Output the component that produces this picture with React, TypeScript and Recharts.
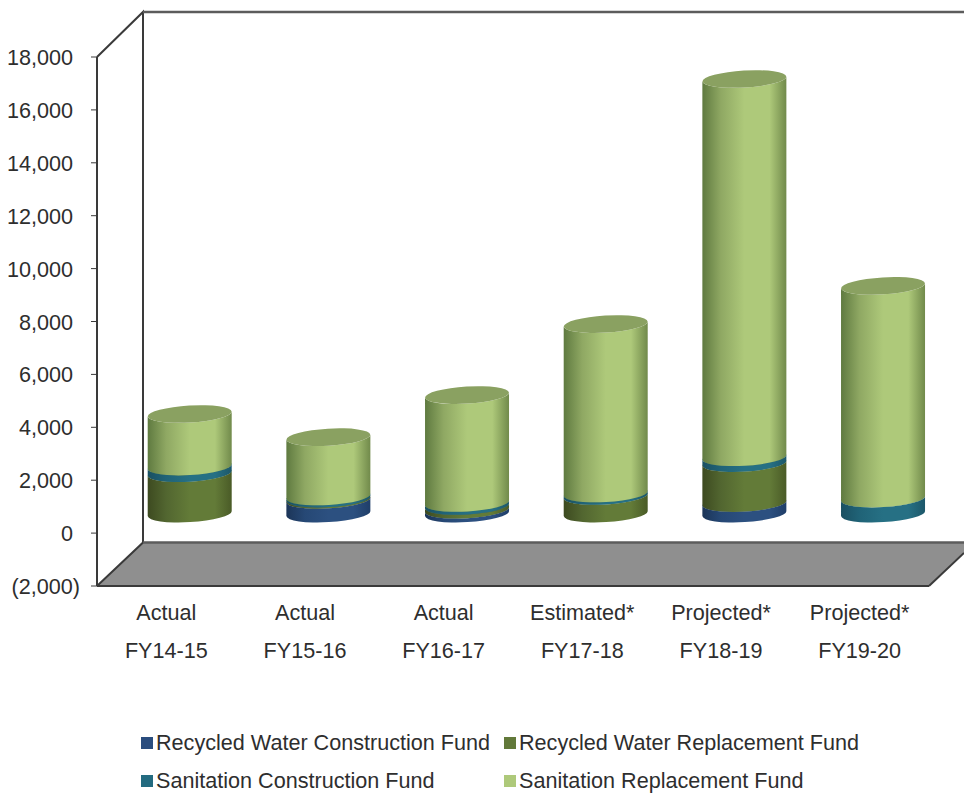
import { BarChart, Bar, XAxis, YAxis, Legend } from "recharts";

const PERIODS = ["Actual", "Actual", "Actual", "Estimated*", "Projected*", "Projected*"];
const YEARS = ["FY14-15", "FY15-16", "FY16-17", "FY17-18", "FY18-19", "FY19-20"];
const RW_CONSTRUCTION = [0, 520, 150, 0, 400, 0];
const RW_REPLACEMENT = [1530, 50, 140, 670, 1510, 0];
const SAN_CONSTRUCTION = [250, 80, 115, 90, 220, 570];
const SAN_REPLACEMENT = [1985, 2240, 4075, 6405, 14300, 8040];
const Y_TICKS = [-2000, 0, 2000, 4000, 6000, 8000, 10000, 12000, 14000, 16000, 18000];

const SERIES = [
  { key: "rwc", label: "Recycled Water Construction Fund", swatch: "#2a4d7e", dark: "#1c3558", soft: "#264875", mid: "#2c5080", side: "#1f3e68", cap: "#2a4d7e" },
  { key: "rwr", label: "Recycled Water Replacement Fund", swatch: "#62793a", dark: "#3d4a20", soft: "#526630", mid: "#637b38", side: "#4a5b27", cap: "#62793a" },
  { key: "sc", label: "Sanitation Construction Fund", swatch: "#236b80", dark: "#1a5062", soft: "#206377", mid: "#267084", side: "#1c5769", cap: "#236b80" },
  { key: "sr", label: "Sanitation Replacement Fund", swatch: "#aec97a", dark: "#5f7a40", soft: "#8fa863", mid: "#aec97a", side: "#718a4b", cap: "#8aa161" },
];

const data = YEARS.map((year, i) => ({
  year,
  rwc: RW_CONSTRUCTION[i],
  rwr: RW_REPLACEMENT[i],
  sc: SAN_CONSTRUCTION[i],
  sr: SAN_REPLACEMENT[i],
}));

const FONT = "'Liberation Sans', Arial, sans-serif";
const TEXT = "#2e2e2e";
const FONT_SIZE = 21.6;

// plot box of the front plane, and how far back the 3D walls go
const LEFT = 97;
const RIGHT = 929;
const TOP = 57;
const BOTTOM = 586;
const DEPTH_X = 46;
const DEPTH_Y = 44;
const TILT = -3.4;
const RY = 8.5;

function Cylinder(props: any) {
  const { x, y, width, height, seriesIndex } = props;
  if (!height || height <= 0) return null;
  const s = SERIES[seriesIndex];
  const left = x + DEPTH_X / 2 + 0.7;
  const right = left + width;
  const top = y - 19.5;
  const bottom = top + height;
  const rx = width / 2;
  const lift = 2.5;
  const path =
    `M${left},${top + lift} L${left},${bottom + lift} ` +
    `A${rx},${RY} ${TILT} 0 0 ${right},${bottom - lift} ` +
    `L${right},${top - lift} A${rx},${RY} ${TILT} 0 1 ${left},${top + lift} Z`;
  const cx = (left + right) / 2;
  return (
    <g>
      <path d={path} fill={`url(#grad-${s.key})`} />
      <ellipse
        cx={cx}
        cy={top}
        rx={rx}
        ry={RY}
        fill={s.cap}
        transform={`rotate(${TILT} ${cx} ${top})`}
      />
    </g>
  );
}

function YTick({ x, y, payload }: any) {
  const negative = payload.value < 0;
  const n = Math.abs(payload.value).toLocaleString("en-US");
  return (
    <text
      x={negative ? x - 1 : x - 8}
      y={y + 8}
      textAnchor="end"
      fontFamily={FONT}
      fontSize={FONT_SIZE}
      fill={TEXT}
    >
      {negative ? `(${n})` : n}
    </text>
  );
}

function XTick({ x, payload }: any) {
  return (
    <text textAnchor="middle" fontFamily={FONT} fontSize={FONT_SIZE} fill={TEXT}>
      <tspan x={x} y={620}>{PERIODS[payload.index]}</tspan>
      <tspan x={x} y={658}>{payload.value}</tspan>
    </text>
  );
}

function LegendBox() {
  return (
    <div
      style={{
        display: "grid",
        gridTemplateColumns: "363px 400px",
        gridAutoRows: "38px",
        marginLeft: 141,
        marginTop: -1,
        fontFamily: FONT,
        fontSize: FONT_SIZE,
        color: TEXT,
      }}
    >
      {SERIES.map((s) => (
        <div key={s.key} style={{ display: "flex", alignItems: "center", whiteSpace: "nowrap" }}>
          <span style={{ width: 12, height: 12, marginRight: 3, background: s.swatch }} />
          {s.label}
        </div>
      ))}
    </div>
  );
}

export default function App() {
  const backX = LEFT + DEPTH_X;
  const backTop = TOP - DEPTH_Y - 1;
  const backBottom = BOTTOM - DEPTH_Y + 0.5;
  return (
    <div style={{ position: "absolute", left: 0, top: 0, width: 964, height: 794, overflow: "hidden" }}>
      <BarChart
        width={964}
        height={794}
        data={data}
        barSize={84}
        margin={{ top: TOP, right: 964 - RIGHT, bottom: 0, left: 0 }}
      >
        <defs>
          {SERIES.map((s) => (
            <linearGradient key={s.key} id={`grad-${s.key}`} x1="0" y1="0" x2="1" y2="0">
              <stop offset="0" stopColor={s.dark} />
              <stop offset="0.22" stopColor={s.soft} />
              <stop offset="0.5" stopColor={s.mid} />
              <stop offset="0.8" stopColor={s.mid} />
              <stop offset="1" stopColor={s.side} />
            </linearGradient>
          ))}
        </defs>
        <polygon
          points={`${LEFT},${BOTTOM} ${backX},${backBottom} 964,${backBottom} 964,${BOTTOM - 33} ${RIGHT},${BOTTOM}`}
          fill="#8f8f8f"
        />
        <polyline
          points={`${LEFT},${TOP} ${backX},${backTop} ${backX},${backBottom} ${LEFT},${BOTTOM}`}
          fill="none"
          stroke="#3a3a3a"
          strokeWidth={2}
        />
        <line x1={backX} y1={backTop} x2={964} y2={backTop} stroke="#5c5c5c" strokeWidth={2.5} />
        <line x1={backX} y1={backBottom} x2={964} y2={backBottom} stroke="#5c5c5c" strokeWidth={2.5} />
        <line x1={RIGHT} y1={BOTTOM} x2={964} y2={BOTTOM - 33} stroke="#3a3a3a" strokeWidth={2} />
        <XAxis
          dataKey="year"
          height={139}
          interval={0}
          tickLine={false}
          axisLine={{ stroke: "#3a3a3a", strokeWidth: 2 }}
          tick={<XTick />}
        />
        <YAxis
          width={LEFT}
          domain={[-2000, 18000]}
          ticks={Y_TICKS}
          interval={0}
          tickSize={6}
          tickMargin={10}
          axisLine={{ stroke: "#3a3a3a", strokeWidth: 2 }}
          tickLine={{ stroke: "#3a3a3a" }}
          tick={<YTick />}
        />
        <Legend
          verticalAlign="bottom"
          height={69}
          wrapperStyle={{ left: 0, width: 964 }}
          content={<LegendBox />}
        />
        {SERIES.map((s, i) => (
          <Bar
            key={s.key}
            dataKey={s.key}
            name={s.label}
            stackId="funds"
            fill={s.swatch}
            isAnimationActive={false}
            shape={(p: any) => <Cylinder {...p} seriesIndex={i} />}
          />
        ))}
      </BarChart>
    </div>
  );
}
